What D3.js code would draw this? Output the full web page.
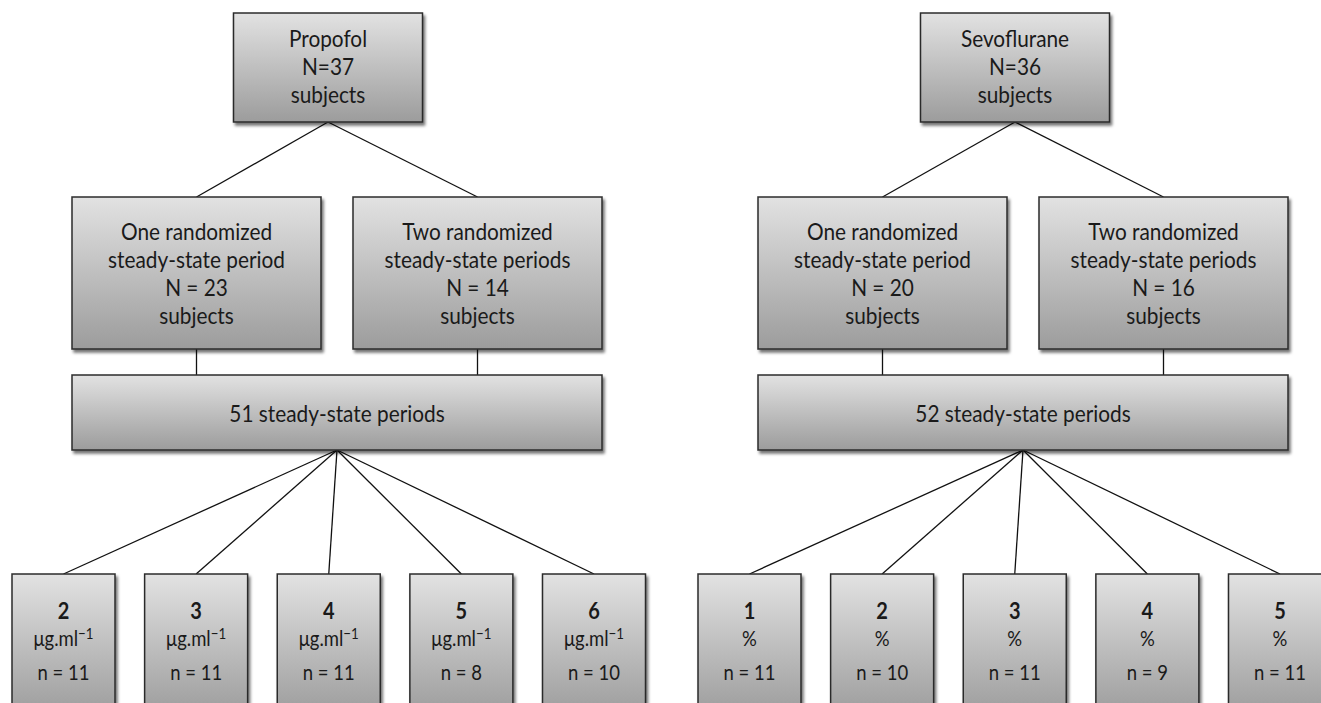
<!DOCTYPE html>
<html>
<head>
<meta charset="utf-8">
<script src="https://cdn.jsdelivr.net/npm/d3@7"></script>
<style>
  html, body { margin: 0; padding: 0; background: #ffffff; }
  svg { display: block; }
  text { font-family: Lato, "Open Sans", sans-serif; fill: #1a1a1a; }
</style>
</head>
<body>
<svg id="chart" width="1321" height="703"></svg>
<script>
// ---------------- data ----------------
const drugs        = ["Propofol", "Sevoflurane"];
const totalN       = [37, 36];
const oneNs        = [23, 20];
const twoNs        = [14, 16];
const periodCounts = [51, 52];
const propofolDoses  = [2, 3, 4, 5, 6];
const propofolCounts = [11, 11, 11, 8, 10];
const sevoDoses      = [1, 2, 3, 4, 5];
const sevoCounts     = [11, 10, 11, 9, 11];
const doseUnits      = ["μg.ml", "%"];
const unitSup        = ["−1", ""];

// ---------------- layout ----------------
const W = 1321, H = 703;
const svg = d3.select("#chart");
const groupOffset = [0, 686];
const topCx = [328, 1015];
const topBox = { w: 189, y: 13, h: 109 };
const midBoxes = [{ x: 72, w: 249 }, { x: 353, w: 249 }];
const midY = 197, midH = 152;
const perBox = { x: 72, w: 530, y: 375, h: 75 };
const botTop = 574, botW = 103, botH = 142;
const botRanges = [[63.5, 594], [749.5, 1280]];
const SX = 0.88; // horizontal compression to mimic a narrow humanist face

const defs = svg.append("defs");
const grad = defs.append("linearGradient").attr("id", "g").attr("x1", 0).attr("y1", 0).attr("x2", 0).attr("y2", 1);
grad.append("stop").attr("offset", "0%").attr("stop-color", "#e2e2e2");
grad.append("stop").attr("offset", "100%").attr("stop-color", "#9c9c9c");
const f = defs.append("filter").attr("id", "sh").attr("x", "-10%").attr("y", "-10%").attr("width", "130%").attr("height", "130%");
f.append("feDropShadow").attr("dx", 2).attr("dy", 3).attr("stdDeviation", 1.8).attr("flood-color", "#000").attr("flood-opacity", 0.55);

// font fitting
function fitSize(str, target, weight) {
  const t = svg.append("text").attr("font-size", 100).attr("font-weight", weight || 400).text(str);
  const len = t.node().getComputedTextLength();
  t.remove();
  return 100 * target / len / SX;
}
const mainFs = fitSize("steady-state period", 177);
const botFs = fitSize("n = 11", 52);

const lineG = svg.append("g").attr("stroke", "#111").attr("stroke-width", 1.3).attr("fill", "none");
const boxG = svg.append("g");
const textG = svg.append("g");

function box(x, y, w, h) {
  boxG.append("rect").attr("x", x).attr("y", y).attr("width", w).attr("height", h)
    .attr("fill", "url(#g)").attr("stroke", "#2b2b2b").attr("stroke-width", 1.5)
    .attr("filter", "url(#sh)");
}
function label(x, y, fs, weight) {
  return textG.append("text").attr("transform", `translate(${x},${y}) scale(${SX},1)`)
    .attr("text-anchor", "middle").attr("font-size", fs).attr("font-weight", weight || 400);
}
function lines(x, y0, strs, fs, lh) {
  strs.forEach((s, i) => label(x, y0 + i * lh, fs).text(s));
}
function seg(x1, y1, x2, y2) {
  lineG.append("line").attr("x1", x1).attr("y1", y1).attr("x2", x2).attr("y2", y2);
}

drugs.forEach((drug, gi) => {
  const off = groupOffset[gi];
  const cx = topCx[gi];
  // top box
  box(cx - topBox.w / 2, topBox.y, topBox.w, topBox.h);
  lines(cx, 47, [drug, "N=" + totalN[gi], "subjects"], mainFs, 28);

  // middle boxes
  const midTexts = [
    ["One randomized", "steady-state period", "N = " + oneNs[gi], "subjects"],
    ["Two randomized", "steady-state periods", "N = " + twoNs[gi], "subjects"]
  ];
  midBoxes.forEach((mb, mi) => {
    const mx = mb.x + off, mcx = mx + mb.w / 2;
    seg(cx, topBox.y + topBox.h, mcx, midY);
    seg(mcx, midY + midH, mcx, perBox.y);
    box(mx, midY, mb.w, midH);
    lines(mcx, 240, midTexts[mi], mainFs, 28);
  });

  // periods box
  const px = perBox.x + off, pcx = px + perBox.w / 2;
  box(px, perBox.y, perBox.w, perBox.h);
  lines(pcx, 422, [periodCounts[gi] + " steady-state periods"], mainFs, 0);

  // bottom boxes
  const doses = gi === 0 ? propofolDoses : sevoDoses;
  const counts = gi === 0 ? propofolCounts : sevoCounts;
  const xs = d3.scalePoint().domain(doses).range(botRanges[gi]);
  doses.forEach((d, i) => {
    const bcx = xs(d);
    seg(pcx, perBox.y + perBox.h, bcx, botTop);
    box(bcx - botW / 2, botTop, botW, botH);
    label(bcx, 619, botFs * 1.08, 700).text(d);
    const u = label(bcx, 646, botFs);
    u.append("tspan").text(doseUnits[gi]);
    if (unitSup[gi]) {
      u.append("tspan").attr("dy", -7).attr("font-size", botFs * 0.72).text(unitSup[gi]);
    }
    label(bcx, 680, botFs).text("n = " + counts[i]);
  });
});
</script>
</body>
</html>
